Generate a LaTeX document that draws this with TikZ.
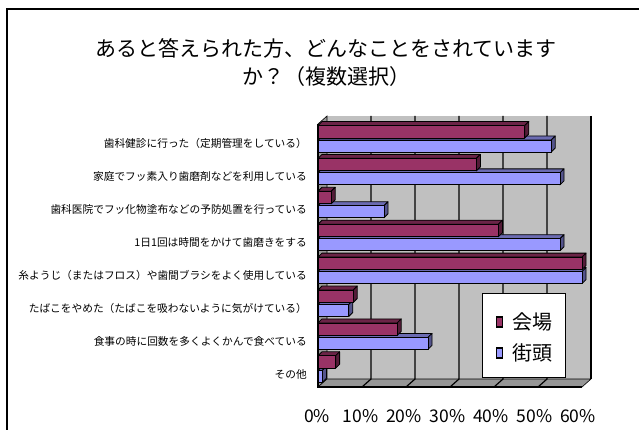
\documentclass[tikz,border=0pt]{standalone}
\usepackage{fontspec}
\setmainfont{Noto Sans CJK JP}
\definecolor{kaijo}{HTML}{993366}
\definecolor{gaito}{HTML}{9999FF}
\definecolor{wallgray}{HTML}{C0C0C0}
\definecolor{floorgray}{HTML}{969696}

\tikzset{
  catlabel/.style={anchor=east,inner sep=0pt,font=\fontsize{10.7}{12}\selectfont},
  pctlabel/.style={inner sep=0pt,font=\fontsize{17.5}{20}\selectfont},
  barline/.style={draw=black,line width=0.8pt,line join=round},
  legkey/.style={draw=black,line width=1.2pt,inner sep=0pt,minimum width=6,minimum height=10},
  legtext/.style={anchor=west,inner sep=0pt,font=\fontsize{20}{22}\selectfont}
}

% one 3-d bar: top, height, value in %, colour
\newcommand{\tdbar}[4]{%
  \filldraw[barline,fill=#4!70!black] (318,#1) -- (322,#1-4) -- ({322+4.4*#3},#1-4) -- ({318+4.4*#3},#1) -- cycle;
  \filldraw[barline,fill=#4!55!black] ({318+4.4*#3},#1) -- ({322+4.4*#3},#1-4) -- ({322+4.4*#3},#1+#2-4) -- ({318+4.4*#3},#1+#2) -- cycle;
  \filldraw[barline,fill=#4] (318,#1) rectangle ({318+4.4*#3},#1+#2);
}

\begin{document}
\begin{tikzpicture}[x=1pt,y=-1pt]
\useasboundingbox (0,0) rectangle (639,430);
\fill[white] (0,0) rectangle (639,430);
\clip (0,0) rectangle (639,430);
\draw[line width=2.5pt] (7,9) rectangle (700,480);

\node[align=center,inner sep=0pt,font=\fontsize{21}{28}\selectfont] (title) at (326,63)
  {あると答えられた方、どんなことをされています\\か？（複数選択）};

% walls and floor
\fill[wallgray] (327,116) rectangle (591,379);
\filldraw[fill=wallgray!80!black,draw=black,line width=0.6pt] (318,124) -- (327,116) -- (327,379) -- (318,387) -- cycle;
\filldraw[fill=floorgray,draw=black,line width=0.6pt] (318,387) -- (327,379) -- (591,379) -- (582,387) -- cycle;
\foreach \k in {1,...,5}
  \draw[line width=1.2pt] (327+44*\k,116) -- (327+44*\k,379) -- (318+44*\k,387);
\draw[line width=1.2pt] (591,116) -- (591,379);
\draw[line width=1.2pt] (318,124) -- (318,387) -- (582,387);

% bars
\foreach \i/\a/\b in {0/47/53, 1/36/55, 2/3/15, 3/41/55, 4/60/60, 5/8/7, 6/18/25, 7/4/1} {
  \pgfmathsetmacro\t{124+32.9*\i}
  \tdbar{\t+16}{12}{\b}{gaito}
  \tdbar{\t+1.5}{12.5}{\a}{kaijo}
}

% category labels
\foreach \i/\txt in {1/歯科健診に行った（定期管理をしている）,
  2/家庭でフッ素入り歯磨剤などを利用している,
  3/歯科医院でフッ化物塗布などの予防処置を行っている,
  4/1日1回は時間をかけて歯磨きをする,
  5/糸ようじ（またはフロス）や歯間ブラシをよく使用している,
  6/たばこをやめた（たばこを吸わないように気がけている）,
  7/食事の時に回数を多くよくかんで食べている,
  8/その他}
  \node[catlabel] (c\i) at (307,{110+33*\i}) {\txt};

% axis labels
\foreach \k in {0,...,6}
  \node[pctlabel] (p\k) at ({317+43.5*\k},416) {\pgfmathparse{int(10*\k)}\pgfmathresult\%};

% legend
\node[draw=black,fill=white,line width=0.8pt,minimum width=83,minimum height=84,inner sep=0pt] (leg) at (523.5,335) {};
\node[legkey,fill=kaijo] (k1) at (499.5,322) {};
\node[legkey,fill=gaito] (k2) at (499.5,353) {};
\node[legtext] (t1) at (512,322) {会場};
\node[legtext] (t2) at (512,353) {街頭};
\end{tikzpicture}
\end{document}
